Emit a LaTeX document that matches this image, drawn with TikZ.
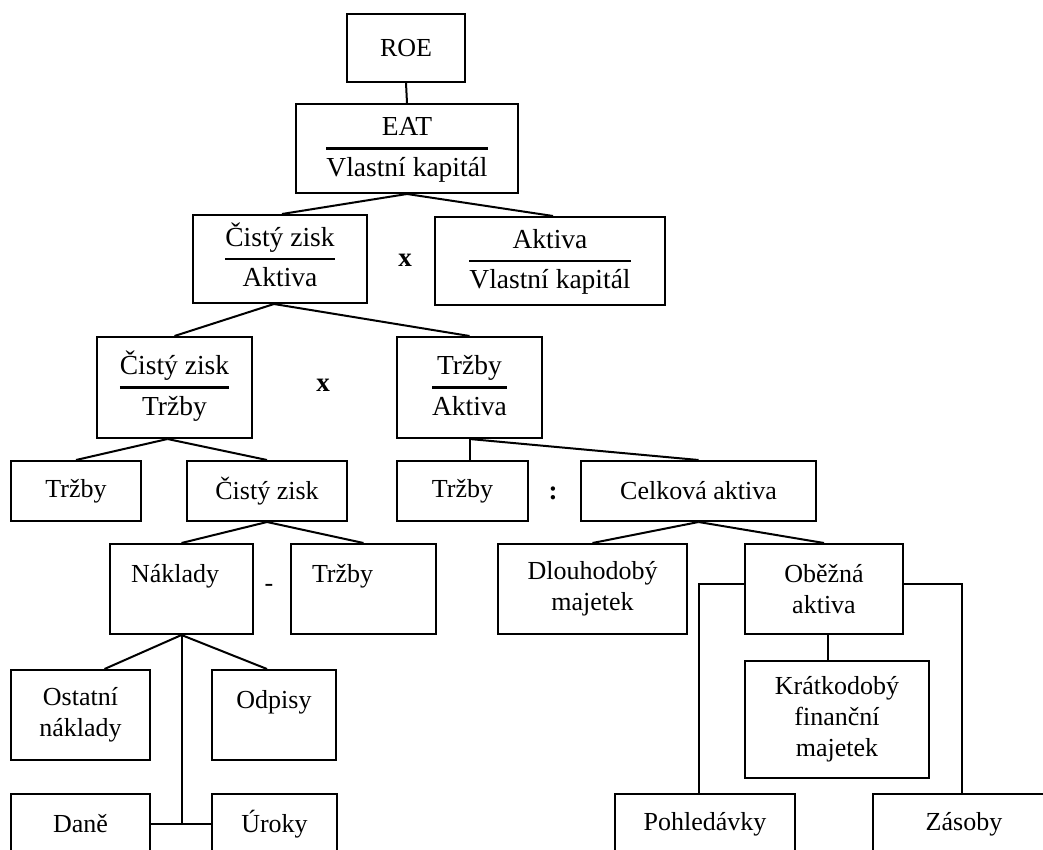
\documentclass[tikz,border=0pt]{standalone}
\usepackage{fontspec}
\setmainfont{Liberation Serif}
\usetikzlibrary{calc}

% zlomek v ramecku
\newcommand{\ratio}[2]{{\fontsize{27.5}{31}\selectfont
  \renewcommand{\arraystretch}{1.22}\setlength{\arrayrulewidth}{2.5pt}%
  \begin{tabular}{@{}c@{}}#1\\\hline #2\end{tabular}}}

\begin{document}
\begin{tikzpicture}[x=1pt,y=-1pt,
  every node/.style={font=\fontsize{26}{31}\selectfont},
  box/.style={draw, line width=2pt, inner sep=0pt, align=center},
  lbox/.style={draw, line width=2pt, inner xsep=21pt, inner ysep=0pt, align=left},
  sz/.style 2 args={minimum width=#1pt, minimum height=#2pt},
  op/.style={inner sep=0pt, font=\fontsize{27}{31}\selectfont\bfseries},
  link/.style={line width=2pt}]

  \useasboundingbox (0,0) rectangle (1043,850);
  \clip (0,0) rectangle (1043,850);

  % ROE a rozklad
  \node[box,sz={118}{68}] (roe) at (406,48) {ROE};
  \node[box,sz={222}{89}] (eat) at (407,148.5) {\ratio{EAT}{Vlastní kapitál}};

  \node[box,sz={174}{88}] (czA) at (280,259) {\ratio{Čistý zisk}{Aktiva}};
  \node[op] (krat1) at (405,260) {x};
  \node[box,sz={230}{88}] (akVK) at (550,261) {\ratio{Aktiva}{Vlastní kapitál}};

  \node[box,sz={155}{101}] (czT) at (174.5,387.5) {\ratio{Čistý zisk}{Tržby}};
  \node[op] (krat2) at (323,385) {x};
  \node[box,sz={145}{101}] (trA) at (469.5,387.5) {\ratio{Tržby}{Aktiva}};

  \node[box,sz={130}{60}] (tr1) at (76,491) {Tržby};
  \node[box,sz={160}{60}] (cz) at (267,491) {Čistý zisk};
  \node[box,sz={131}{60}] (tr2) at (462.5,491) {Tržby};
  \node[op] (deleno) at (553,493) {:};
  \node[box,sz={235}{60}] (celk) at (698.5,491) {Celková aktiva};

  \node[lbox,sz={143}{90},text width=101pt] (nakl) at (181.5,589) {Náklady\\~};
  \node[inner sep=0pt] (minus) at (269,588) {-};
  \node[lbox,sz={145}{90},text width=103pt] (tr3) at (363.5,589) {Tržby\\~};
  \node[box,sz={189}{90}] (dlouh) at (592.5,589) {Dlouhodobý\\majetek};
  \node[box,sz={158}{90}] (obez) at (824,589) {Oběžná\\aktiva};

  \node[box,sz={139}{90}] (ost) at (80.5,715) {Ostatní\\náklady};
  \node[box,sz={124}{90}] (odp) at (274,715) {Odpisy\\~};
  \node[box,sz={184}{117}] (kfm) at (837,719.5) {Krátkodobý\\finanční\\majetek};

  \node[box,sz={139}{60}] (dane) at (80.5,824) {Daně};
  \node[box,sz={125}{60}] (urok) at (274.5,824) {Úroky};
  \node[box,sz={180}{60}] (pohl) at (705,824) {Pohledávky};
  \node[box,sz={182}{60}] (zas) at (964,824) {Zásoby};

  % spojnice
  \draw[link] (roe.south) -- (eat.north);
  \draw[link] (eat.south) -- ($(czA.north)+(2,0)$);
  \draw[link] (eat.south) -- ($(akVK.north)+(3,0)$);

  \coordinate (czAS) at ($(czA.south)+(-6,0)$);
  \draw[link] (czAS) -- (czT.north);
  \draw[link] (czAS) -- (trA.north);

  \coordinate (czTS) at ($(czT.south)+(-7,0)$);
  \draw[link] (czTS) -- (tr1.north);
  \draw[link] (czTS) -- (cz.north);

  \draw[link] (cz.south) -- (nakl.north);
  \draw[link] (cz.south) -- (tr3.north);

  \draw[link] (trA.south) -- (trA.south |- tr2.north);
  \draw[link] (trA.south) -- (celk.north);

  \draw[link] (celk.south) -- (dlouh.north);
  \draw[link] (celk.south) -- (obez.north);

  \draw[link] (nakl.south) -- ($(ost.north)+(24,0)$);
  \draw[link] (nakl.south) -- ($(odp.north)+(-7,0)$);
  \draw[link] (nakl.south) -- (nakl.south |- dane.east);
  \draw[link] (dane.east) -- (urok.west);

  \coordinate (obezS) at ($(obez.south)+(4,0)$);
  \draw[link] (obezS) -- (obezS |- kfm.north);
  \draw[link] ($(obez.west)+(0,-5)$) -| ($(pohl.north)+(-6,0)$);
  \draw[link] ($(obez.east)+(0,-5)$) -| ($(zas.north)+(-2,0)$);
\end{tikzpicture}
\end{document}
